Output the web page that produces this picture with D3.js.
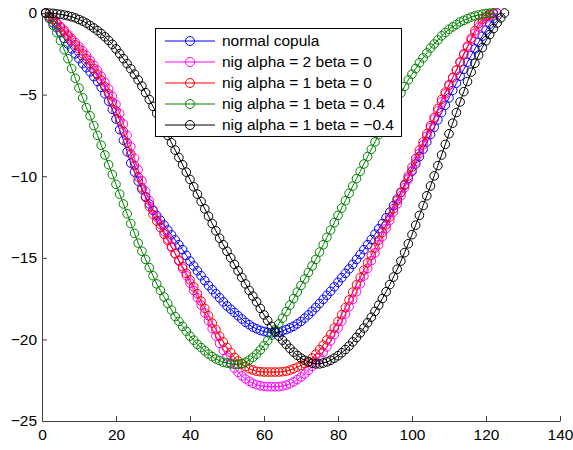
<!DOCTYPE html>
<html><head><meta charset="utf-8">
<script src="https://cdn.jsdelivr.net/npm/d3@7"></script>
<style>body{margin:0;background:#fff}svg{display:block}text{font-family:"Liberation Sans",Arial,sans-serif}</style>
</head><body>
<svg id="c" width="573" height="450"></svg>
<script>
const seriesNames = ["normal copula","nig alpha = 2 beta = 0","nig alpha = 1 beta = 0","nig alpha = 1 beta = 0.4","nig alpha = 1 beta = \u22120.4"];
const seriesColors = ["#0000ff","#ff00ff","#ff0000","#008000","#000000"];
const xTicks = [0,20,40,60,80,100,120,140];
const yTicks = [0,-5,-10,-15,-20,-25];

const normalY = [0,-0.3,-0.6,-0.9,-1.2,-1.55,-1.9,-2.2,-2.5,-2.8,
-3.1,-3.35,-3.6,-3.9,-4.2,-4.55,-4.95,-5.4,-5.9,-6.5,
-7.15,-7.8,-8.5,-9.2,-9.75,-10.3,-10.8,-11.25,-11.7,-12.1,
-12.4,-12.7,-13.0,-13.3,-13.6,-13.9,-14.2,-14.5,-14.85,-15.2,
-15.5,-15.8,-16.1,-16.4,-16.7,-16.95,-17.2,-17.45,-17.7,-17.95,
-18.15,-18.35,-18.55,-18.75,-18.95,-19.1,-19.25,-19.35,-19.45,-19.52,-19.57,-19.6,
-19.58,-19.55,-19.48,-19.4,-19.3,-19.2,-19.05,-18.9,-18.7,-18.5,
-18.28,-18.05,-17.8,-17.55,-17.3,-17.05,-16.78,-16.5,-16.22,-15.95,
-15.68,-15.4,-15.1,-14.8,-14.5,-14.2,-13.88,-13.55,-13.22,-12.9,
-12.55,-12.2,-11.8,-11.4,-10.98,-10.55,-10.12,-9.7,-9.25,-8.8,
-8.35,-7.9,-7.45,-7.0,-6.55,-6.1,-5.65,-5.2,-4.75,-4.3,
-3.87,-3.45,-3.02,-2.6,-2.2,-1.8,-1.42,-1.05,-0.68,-0.35,0];

const nigA2Y = [0,-0.18,-0.38,-0.6,-0.82,-1.05,-1.3,-1.55,-1.8,-2.05,
-2.32,-2.6,-2.9,-3.2,-3.52,-3.87,-4.25,-4.65,-5.1,-5.6,
-6.15,-6.8,-7.5,-8.2,-8.9,-9.6,-10.28,-10.92,-11.5,-12.05,
-12.5,-12.95,-13.4,-13.85,-14.3,-14.75,-15.2,-15.65,-16.1,-16.55,
-17.0,-17.45,-17.9,-18.38,-18.86,-19.34,-19.8,-20.25,-20.68,-21.08,
-21.44,-21.76,-22.02,-22.24,-22.42,-22.57,-22.69,-22.78,-22.84,-22.88,
-22.9,-22.9,-22.9,-22.9,-22.86,-22.8,-22.72,-22.6,-22.46,-22.3,
-22.12,-21.9,-21.66,-21.4,-21.12,-20.8,-20.46,-20.1,-19.71,-19.3,
-18.88,-18.45,-18.0,-17.55,-17.08,-16.6,-16.12,-15.65,-15.18,-14.7,
-14.2,-13.7,-13.2,-12.7,-12.2,-11.7,-11.2,-10.7,-10.18,-9.65,
-9.12,-8.6,-8.08,-7.55,-7.02,-6.5,-5.98,-5.45,-4.95,-4.45,
-3.97,-3.5,-3.02,-2.55,-2.1,-1.65,-1.24,-0.85,-0.55,-0.3,
-0.15,-0.05,0];

const nigA1Y = [0,-0.2,-0.42,-0.65,-0.9,-1.15,-1.4,-1.67,-1.94,-2.2,
-2.5,-2.8,-3.1,-3.4,-3.75,-4.12,-4.52,-4.95,-5.45,-6.0,
-6.6,-7.25,-7.95,-8.65,-9.35,-10.05,-10.7,-11.3,-11.85,-12.35,
-12.75,-13.15,-13.55,-13.95,-14.35,-14.75,-15.15,-15.55,-15.95,-16.35,
-16.78,-17.2,-17.65,-18.1,-18.55,-19.0,-19.4,-19.8,-20.15,-20.5,
-20.8,-21.1,-21.32,-21.5,-21.66,-21.8,-21.88,-21.95,-21.98,-22.0,
-22.0,-22.0,-22.0,-22.0,-21.98,-21.95,-21.88,-21.8,-21.7,-21.6,
-21.48,-21.35,-21.14,-20.9,-20.63,-20.35,-20.03,-19.7,-19.3,-18.9,
-18.48,-18.05,-17.58,-17.1,-16.65,-16.2,-15.75,-15.3,-14.85,-14.4,
-13.92,-13.45,-12.98,-12.5,-12.0,-11.5,-11.0,-10.5,-9.98,-9.45,
-8.92,-8.4,-7.9,-7.4,-6.9,-6.4,-5.85,-5.3,-4.85,-4.4,
-3.95,-3.5,-3.0,-2.5,-2.02,-1.55,-1.08,-0.65,-0.38,-0.2,
-0.08,0];

const nigPosY = [0,-0.35,-0.75,-1.2,-1.7,-2.25,-2.8,-3.4,-4.0,-4.6,
-5.2,-5.8,-6.3,-6.9,-7.5,-8.1,-8.7,-9.3,-9.9,-10.5,
-11.1,-11.7,-12.3,-12.9,-13.5,-14.1,-14.6,-15.1,-15.6,-16.1,
-16.6,-17.0,-17.4,-17.8,-18.2,-18.6,-18.9,-19.2,-19.5,-19.8,
-20.05,-20.3,-20.5,-20.7,-20.9,-21.05,-21.2,-21.3,-21.4,-21.45,
-21.5,-21.52,-21.52,-21.48,-21.4,-21.27,-21.1,-20.9,-20.65,-20.38,
-20.07,-19.74,-19.4,-19.05,-18.7,-18.3,-17.9,-17.5,-17.1,-16.7,
-16.3,-15.9,-15.5,-15.1,-14.65,-14.2,-13.75,-13.3,-12.85,-12.4,
-11.95,-11.5,-11.05,-10.6,-10.15,-9.7,-9.25,-8.8,-8.35,-7.9,
-7.45,-7.0,-6.55,-6.1,-5.7,-5.3,-4.9,-4.5,-4.1,-3.75,
-3.4,-3.05,-2.75,-2.45,-2.15,-1.9,-1.65,-1.4,-1.2,-1.0,
-0.85,-0.7,-0.55,-0.45,-0.35,-0.25,-0.18,-0.12,-0.07,-0.03,
-0.01,0];

const nigNegY = [0,-0.01,-0.02,-0.05,-0.08,-0.12,-0.17,-0.23,-0.3,-0.4,
-0.5,-0.62,-0.76,-0.92,-1.08,-1.26,-1.46,-1.68,-1.92,-2.2,
-2.5,-2.8,-3.1,-3.42,-3.75,-4.1,-4.48,-4.88,-5.3,-5.72,
-6.15,-6.6,-7.05,-7.5,-7.95,-8.4,-8.85,-9.3,-9.75,-10.2,
-10.65,-11.1,-11.55,-12.0,-12.45,-12.9,-13.35,-13.8,-14.2,-14.6,
-15.0,-15.4,-15.8,-16.2,-16.6,-17.0,-17.35,-17.7,-18.1,-18.5,
-18.85,-19.2,-19.5,-19.8,-20.05,-20.3,-20.55,-20.78,-20.98,-21.15,
-21.28,-21.38,-21.46,-21.5,-21.5,-21.45,-21.38,-21.28,-21.15,-21.0,
-20.82,-20.62,-20.4,-20.15,-19.88,-19.6,-19.3,-18.98,-18.64,-18.28,
-17.9,-17.5,-17.08,-16.64,-16.18,-15.7,-15.2,-14.68,-14.14,-13.58,
-13.0,-12.4,-11.8,-11.2,-10.6,-9.98,-9.35,-8.7,-8.05,-7.4,
-6.75,-6.1,-5.45,-4.82,-4.2,-3.62,-3.08,-2.58,-2.12,-1.7,
-1.32,-0.96,-0.62,-0.3,0];

const seriesValues = [normalY, nigA2Y, nigA1Y, nigPosY, nigNegY];

const svg = d3.select("#c");
const x = d3.scaleLinear().domain([0,140]).range([42,560]);
const y = d3.scaleLinear().domain([-25,0]).range([421,13]);
const axisColor = "#404040";
const fs = "15.5px";

// series
const line = d3.line().x(d => x(d[0])).y(d => y(d[1]));
seriesValues.forEach((vals, si) => {
  const pts = vals.map((v, i) => [i + 1, v]);
  const g = svg.append("g");
  g.append("path").attr("d", line(pts)).attr("fill","none")
    .attr("stroke", seriesColors[si]).attr("stroke-width", 1);
  g.selectAll("circle").data(pts).enter().append("circle")
    .attr("cx", d => x(d[0])).attr("cy", d => y(d[1])).attr("r", 4.3)
    .attr("fill","none").attr("stroke", seriesColors[si]).attr("stroke-width", 1);
});

// axes
const xa = svg.append("g").attr("transform","translate(0,421)")
  .call(d3.axisBottom(x).tickValues(xTicks).tickSizeInner(-5).tickSizeOuter(0).tickPadding(8));
const ya = svg.append("g").attr("transform","translate(42,0)")
  .call(d3.axisLeft(y).tickValues(yTicks).tickSizeInner(-5).tickSizeOuter(0).tickPadding(5));
[xa, ya].forEach(a => {
  a.select(".domain").attr("stroke", axisColor).attr("stroke-width", 1);
  a.selectAll(".tick line").attr("stroke", axisColor);
  a.selectAll("text").attr("fill","#000").style("font-size", fs).style("font-family",'"Liberation Sans",Arial,sans-serif');
});

// legend
const lg = svg.append("g");
lg.append("rect").attr("x",155.5).attr("y",28.5).attr("width",246).attr("height",108)
  .attr("fill","#fff").attr("stroke","#000").attr("stroke-width",1);
seriesNames.forEach((name, i) => {
  const cy = 41 + 21 * i;
  lg.append("line").attr("x1",165).attr("x2",215).attr("y1",cy).attr("y2",cy)
    .attr("stroke", seriesColors[i]).attr("stroke-width",1);
  lg.append("circle").attr("cx",190).attr("cy",cy).attr("r",4.5)
    .attr("fill","none").attr("stroke", seriesColors[i]).attr("stroke-width",1);
  lg.append("text").attr("x",222).attr("y",cy).attr("dy","0.35em")
    .style("font-size", fs).attr("fill","#000").text(name);
});
</script>
</body></html>
